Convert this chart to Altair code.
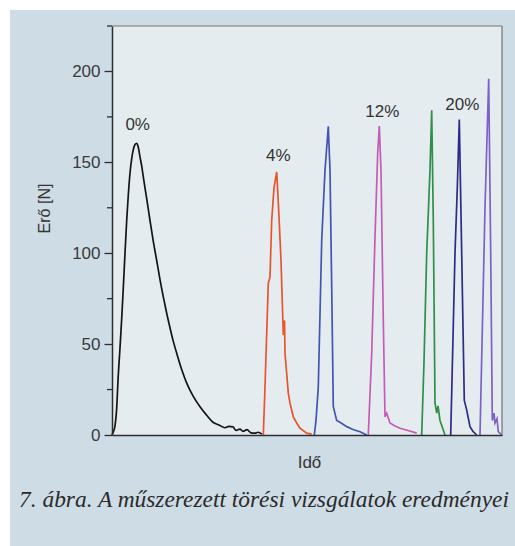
import altair as alt
import pandas as pd

# ---- data (time in arbitrary units, force in N) ----
series_names = ["0%", "4%", "8%", "12%", "16%", "20%", "24%"]
series_colors = ["#141414", "#e8542c", "#4056b2", "#c35cb6", "#2f8f47", "#2c2c82", "#7c62c6"]

t_0 = [0, 1.5, 3, 4.7, 6, 8, 9.7, 11.3, 13, 14.7, 16.3, 18, 19.7, 21.3, 23, 24.7, 26, 28, 29.7,
       31.3, 34.7, 38, 41.3, 44.7, 48, 51.3, 54.7, 58, 61.3, 64.7, 69.7, 74.7, 81, 88, 94.5,
       101, 107, 113, 117, 121, 124, 128, 131, 135, 139, 143, 146, 150]
f_0 = [0, 2, 5, 15, 30, 48, 64, 81, 100, 118, 132, 144, 152, 157, 159.8, 160.5, 159, 153, 148,
       142, 130, 118, 106.5, 96, 85.5, 76, 67, 59, 51.5, 45, 36, 28.5, 21.5, 15.5, 11,
       7, 5.5, 4, 4.8, 4.5, 2.5, 3.2, 2, 3, 1.2, 1, 1.5, 0.5]

t_4 = [151.3, 153, 156.3, 158, 159.7, 162, 164.7, 166.3, 167, 169, 171.3, 172.5, 173, 176.3,
       178, 181.3, 184.7, 188, 194.7, 199.7]
f_4 = [0, 26.5, 83.5, 87, 118, 136, 144.7, 128, 120, 96, 55, 63, 45, 23,
       17.5, 10, 6.6, 3.7, 1, 0.5]

t_8 = [202.3, 204, 206.3, 209.7, 213, 216.3, 218, 219.7, 221.3, 224.7, 228, 234.7, 241, 248, 254.7]
f_8 = [0, 8, 26.5, 107, 145.6, 169.8, 145.6, 81.5, 15.6, 8, 7, 4.6, 3, 1.8, 0]

t_12 = [256.3, 259.7, 263, 265.7, 267.3, 269, 271.3, 273, 274.7, 278, 283, 288, 296, 304.7]
f_12 = [0, 45, 109, 155, 170, 145.6, 63, 10, 12, 6.6, 5, 3.7, 2.5, 1]

t_16 = [309.7, 312, 314.7, 318, 319.7, 321.3, 323, 324.7, 326, 328, 333]
f_16 = [0, 40, 100, 145.6, 178.6, 118, 17.5, 12, 16, 8, 0]

t_20 = [338.7, 343, 345.3, 347.3, 349.7, 352.3, 354.7, 358, 361, 364.7]
f_20 = [0, 100, 136, 173.6, 100, 19, 13.7, 4.6, 2, 0]

t_24 = [368, 373, 376.7, 378.7, 380.3, 382, 383, 385, 386.3, 389.7]
f_24 = [0, 125, 196, 100, 8, 12, 6.6, 9, 1.8, 0]

label_text = ["0%", "4%", "12%", "20%"]
label_t = [25.7, 166.3, 270.3, 350.3]
label_f = [168, 150.5, 175, 178.8]

y_major = [0, 50, 100, 150, 200]
y_minor = [25, 75, 125, 175, 225]

caption = "7. ábra. A műszerezett törési vizsgálatok eredményei"

# ---- build tables ----
rows = []
for name, ts, fs in zip(series_names, [t_0, t_4, t_8, t_12, t_16, t_20, t_24],
                        [f_0, f_4, f_8, f_12, f_16, f_20, f_24]):
    for i, (t, f) in enumerate(zip(ts, fs)):
        rows.append({"series": name, "t": t, "f": f, "i": i})
curves = pd.DataFrame(rows)
labels = pd.DataFrame({"label": label_text, "t": label_t, "f": label_f})
minor = pd.DataFrame({"f": y_minor})

W, H = 390, 409
one = alt.Data(values=[{}])

xscale = alt.Scale(domain=[0, 390], nice=False, zero=False)
yscale = alt.Scale(domain=[0, 225], nice=False)
cscale = alt.Scale(domain=series_names, range=series_colors)

xaxis = alt.Axis(title="Idő", ticks=False, labels=False, grid=False, domain=True,
                 domainColor="#2e2e2e", domainWidth=1.5, titleFont="Liberation Sans",
                 titleFontSize=17, titleFontWeight="normal", titleColor="#333333",
                 titleX=197, titleY=32, titleAlign="center", titleBaseline="alphabetic",
                 zindex=1)
yaxis = alt.Axis(
    orient="left", values=y_major, title="Erő [N]", grid=False, tickSize=8,
    tickColor="#2e2e2e", tickWidth=1.3, domainColor="#2e2e2e", domainWidth=1.5,
    labelFont="Liberation Sans", labelFontSize=17, labelColor="#3a3a3a", labelPadding=4,
    titleFont="Liberation Sans", titleFontSize=16, titleFontWeight="normal",
    titleColor="#333333", titleX=-68, titleY=182, titleAngle=270,
    titleAlign="center", titleBaseline="middle", zindex=1)

outer = alt.Chart(one).mark_rect(color="#cedce5").encode(
    x=alt.value(-102), x2=alt.value(403), y=alt.value(-16), y2=alt.value(520))
inner = alt.Chart(one).mark_rect(color="#e5ecf0").encode(
    x=alt.value(0), x2=alt.value(W), y=alt.value(0), y2=alt.value(H))
top_rule = alt.Chart(one).mark_rule(color="#6e7377", strokeWidth=1.2).encode(
    x=alt.value(0), x2=alt.value(W), y=alt.value(0))
right_rule = alt.Chart(one).mark_rule(color="#6e7377", strokeWidth=1.2).encode(
    x=alt.value(W), y=alt.value(0), y2=alt.value(H))
minor_ticks = alt.Chart(minor).mark_rule(color="#2e2e2e", strokeWidth=1.3).encode(
    x=alt.value(-5), x2=alt.value(0), y=alt.Y("f:Q", scale=yscale, axis=yaxis))

smooth = alt.Chart(curves).transform_filter(alt.datum.series == "0%").mark_line(
    strokeWidth=1.7, interpolate="monotone").encode(
    x=alt.X("t:Q", scale=xscale, axis=xaxis),
    y=alt.Y("f:Q", scale=yscale, axis=yaxis),
    color=alt.Color("series:N", scale=cscale, legend=None),
    order=alt.Order("i:Q"),
)
lines = alt.Chart(curves).transform_filter(alt.datum.series != "0%").mark_line(
    strokeWidth=1.7).encode(
    x=alt.X("t:Q", scale=xscale, axis=xaxis),
    y=alt.Y("f:Q", scale=yscale, axis=yaxis),
    color=alt.Color("series:N", scale=cscale, legend=None),
    order=alt.Order("i:Q"),
)

texts = alt.Chart(labels).mark_text(font="Liberation Sans", fontSize=17, color="#333333",
                                     align="center", baseline="alphabetic").encode(
    x=alt.X("t:Q", scale=xscale, axis=xaxis),
    y=alt.Y("f:Q", scale=yscale, axis=yaxis),
    text="label:N",
)

cap = alt.Chart(one).mark_text(font="Liberation Serif", fontStyle="italic", fontSize=23.4,
                               color="#2a2a2a", align="center", baseline="alphabetic").encode(
    x=alt.value(152), y=alt.value(481), text=alt.value(caption))

chart = alt.layer(outer, inner, top_rule, right_rule, minor_ticks, smooth, lines, texts,
                  cap).properties(
    width=W, height=H,
    autosize=alt.AutoSizeParams(type="none"),
    padding={"left": 112, "top": 26, "right": 13, "bottom": 111},
    background="#ffffff",
).configure_view(stroke=None)

chart.save("out.html", embed_options={"renderer": "svg", "actions": False})
